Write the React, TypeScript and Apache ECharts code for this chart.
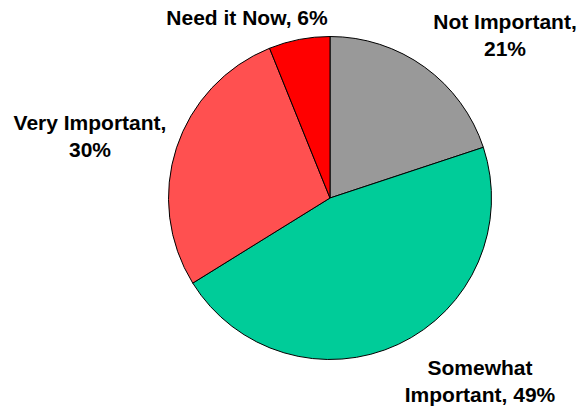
import React, { useEffect, useRef } from "react";
import * as echarts from "echarts";

const categories = ["Not Important", "Somewhat Important", "Very Important", "Need it Now"];
const sliceValues = [19.9, 46.2, 27.7, 6.1];
const labelPercents = [21, 49, 30, 6];
const sliceColors = ["#999999", "#00CC99", "#FF5050", "#FF0000"];

export default function App() {
  const ref = useRef<HTMLDivElement>(null);
  useEffect(() => {
    if (!ref.current) return;
    const chart = echarts.init(ref.current, undefined, { renderer: "svg" });
    const labelPos = [
      { x: 505, y: 35 },
      { x: 480, y: 381 },
      { x: 90, y: 136 },
      { x: 247, y: 17 },
    ];
    const formatText = (i: number) => {
      const name = categories[i];
      const p = labelPercents[i];
      if (i === 0) return `${name},\n${p}%`;
      if (i === 1) return `Somewhat\nImportant, ${p}%`;
      if (i === 2) return `${name},\n${p}%`;
      return `${name}, ${p}%`;
    };
    chart.setOption({
      animation: false,
      series: [
        {
          type: "pie",
          center: [330, 198],
          radius: 161.5,
          startAngle: 90,
          clockwise: true,
          data: categories.map((c, i) => ({
            name: c,
            value: sliceValues[i],
            itemStyle: { color: sliceColors[i] },
          })),
          itemStyle: { borderColor: "#000", borderWidth: 1 },
          label: {
            show: true,
            position: "outside",
            overflow: "none",
            formatter: (p: any) => formatText(p.dataIndex),
            fontFamily: "'Liberation Sans', Arial, sans-serif",
            fontWeight: "bold",
            fontSize: 21,
            lineHeight: 27,
            color: "#000",
            align: "center",
          },
          labelLine: { show: false },
          labelLayout: (params: any) => {
            const pos = labelPos[params.dataIndex];
            return { x: pos.x, y: pos.y, align: "center", verticalAlign: "middle" };
          },
          emphasis: { disabled: true },
        },
      ],
    });
    return () => chart.dispose();
  }, []);
  return (
    <div
      ref={ref}
      style={{ position: "absolute", left: 0, top: 0, width: 579, height: 409, background: "#fff" }}
    />
  );
}
